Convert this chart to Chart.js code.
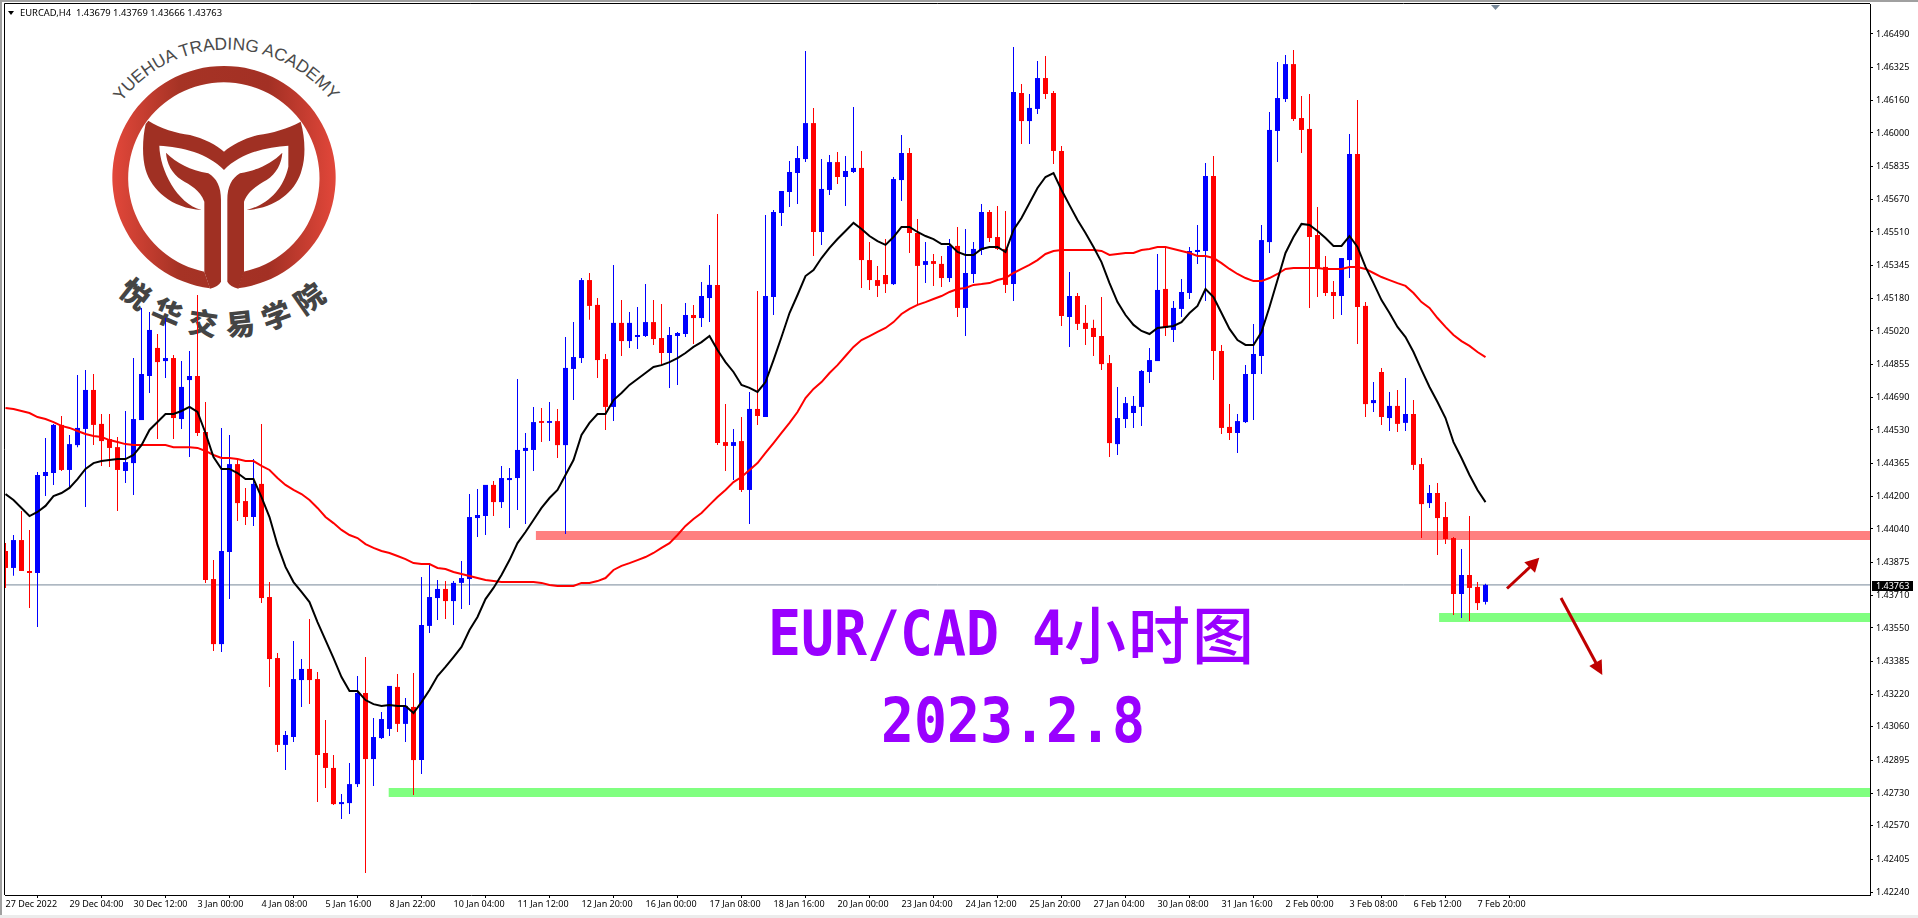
<!DOCTYPE html>
<html lang="en">
<head>
<meta charset="utf-8">
<title>EURCAD,H4</title>
<script src="https://cdn.jsdelivr.net/npm/chart.js@4/dist/chart.umd.js"></script>
<style>
html,body{margin:0;padding:0;background:#fff;width:1918px;height:918px;overflow:hidden}
.strip{position:absolute}
#logo{position:absolute;left:0;top:0;width:480px;height:460px}
#c{position:absolute;left:0;top:0}
#marks{position:absolute;left:0;top:0;pointer-events:none}
#hdr{position:absolute;left:20px;top:6px;font:9.4px/13px 'Noto Sans',sans-serif;color:#000;white-space:pre}
#tri{position:absolute;left:8px;top:10.5px;width:0;height:0;border-left:3.5px solid transparent;border-right:3.5px solid transparent;border-top:4px solid #000}
.big{position:absolute;color:#9900ff;font-family:'DejaVu Sans Mono',monospace;font-weight:bold;font-size:54.8px;line-height:60px;white-space:pre;transform-origin:0 100%;}
.cjk{position:absolute;color:#9900ff;font-family:'Noto Sans CJK SC',sans-serif;font-weight:500;font-size:62px;letter-spacing:2px;line-height:70px;white-space:pre}
</style>
</head>
<body>
<svg id="logo" viewBox="0 0 1440 1380">
<defs><linearGradient id="g" gradientUnits="userSpaceOnUse" x1="337" y1="0" x2="1007" y2="0">
<stop offset="0" stop-color="#e2473a"/><stop offset="0.3" stop-color="#a63325"/><stop offset="0.7" stop-color="#a33024"/><stop offset="1" stop-color="#e2473a"/></linearGradient>
<path id="arcTop" d="M364 306 A396 396 0 0 1 996 306"/>
<path id="arcBot" d="M352 878 A470 470 0 0 0 1000 878"/>
</defs>
<path fill="url(#g)" d="M630 865 A335 335 0 1 1 714 865 L730 815 A287 287 0 1 0 613 815 Z"/>
<g fill="#a03023">
<path id="leaf" d="M498 458 C530 490 570 510 625 520 C650 535 663 560 663 600 L663 845 Q655 860 630 866 L613 815 L613 605 C600 570 570 555 545 540 C515 520 500 490 498 458 Z"/>
<use href="#leaf" transform="translate(1345,0) scale(-1,1)"/>
<path d="M445 362 C480 385 530 400 570 405 C610 415 650 435 672 455 C695 435 735 415 775 405 C815 400 865 385 902 365 C915 410 918 470 905 510 C890 570 830 625 740 630 C800 615 850 570 865 500 L865 437 C800 440 720 460 672 510 C625 460 545 440 478 437 C480 510 530 610 605 630 C515 625 455 570 437 510 C425 470 428 410 437 372 Z"/>
</g>
<text font-family="'Liberation Sans',sans-serif" font-size="52" fill="#4a4a4a"><textPath href="#arcTop" textLength="728" lengthAdjust="spacing">YUEHUA TRADING ACADEMY</textPath></text>
<text font-family="'Noto Sans CJK SC',sans-serif" font-weight="900" font-size="88" fill="#444"><textPath href="#arcBot" textLength="690" lengthAdjust="spacing">悦华交易学院</textPath></text>
</svg>
<canvas id="c" width="1918" height="918"></canvas>
<div class="strip" style="left:0;top:0;width:1918px;height:2px;background:#a0a0a0"></div>
<div class="strip" style="left:0;top:0;width:2px;height:918px;background:#a0a0a0"></div>
<div class="strip" style="left:0;top:915px;width:1918px;height:3px;background:#ececec"></div>
<div id="tri"></div>
<div id="hdr">EURCAD,H4  1.43679 1.43769 1.43666 1.43763</div>
<div class="big" style="left:768px;top:607.4px;transform:scaleY(1.126)">EUR/CAD 4</div>
<div class="cjk" style="left:1064px;top:597px">小时图</div>
<div class="big" style="left:881px;top:694.4px;transform:scaleY(1.126)">2023.2.8</div>
<svg id="marks" width="1918" height="918">
<g fill="#bf0000" stroke="#bf0000">
<line x1="1507" y1="588.5" x2="1530" y2="567" stroke-width="3"/>
<polygon points="1539.3,557.7 1524.3,562.3 1535,572.7" stroke="none"/>
<line x1="1561" y1="598" x2="1596" y2="663" stroke-width="3"/>
<polygon points="1602.3,675 1589.3,666 1601.7,659.3" stroke="none"/>
</g>
</svg>
<script>
const xTickLabels = ["27 Dec 2022","29 Dec 04:00","30 Dec 12:00","3 Jan 00:00","4 Jan 08:00","5 Jan 16:00","8 Jan 22:00","10 Jan 04:00","11 Jan 12:00","12 Jan 20:00","16 Jan 00:00","17 Jan 08:00","18 Jan 16:00","20 Jan 00:00","23 Jan 04:00","24 Jan 12:00","25 Jan 20:00","27 Jan 04:00","30 Jan 08:00","31 Jan 16:00","2 Feb 00:00","3 Feb 08:00","6 Feb 12:00","7 Feb 20:00"];
const yTickValues = [1.46490,1.46325,1.46160,1.46000,1.45835,1.45670,1.45510,1.45345,1.45180,1.45020,1.44855,1.44690,1.44530,1.44365,1.44200,1.44040,1.43875,1.43710,1.43550,1.43385,1.43220,1.43060,1.42895,1.42730,1.42570,1.42405,1.42240];
const highs = [
1.43970,1.44010,1.44129,1.44035,1.44322,1.44490,1.44560,1.44599,1.44505,1.44802,
1.44827,1.44807,1.44609,1.44609,1.44495,1.44624,1.44886,1.45134,1.45114,1.45005,
1.45084,1.44901,1.44871,1.44921,1.45198,1.44668,1.43886,1.44540,1.44505,1.44391,
1.44243,1.44386,1.44560,1.43777,1.43426,1.43040,1.43485,1.43396,1.43594,1.43332,
1.43094,1.42921,1.42728,1.42881,1.43312,1.43406,1.43104,1.43134,1.43263,1.43322,
1.43203,1.43327,1.43802,1.43862,1.43787,1.43782,1.43782,1.43881,1.44213,1.44238,
1.44258,1.44277,1.44352,1.44342,1.44782,1.44515,1.44644,1.44639,1.44668,1.44634,
1.44990,1.45064,1.45282,1.45307,1.45183,1.44906,1.45347,1.45173,1.45114,1.45139,
1.45252,1.45173,1.45153,1.45040,1.45015,1.45158,1.45149,1.45262,1.45347,1.45599,
1.44658,1.44535,1.44594,1.44718,1.45218,1.45594,1.45619,1.45713,1.45861,1.45936,
1.46406,1.46124,1.45871,1.45891,1.45906,1.45886,1.46129,1.45911,1.45460,1.45342,
1.45475,1.45782,1.45990,1.45926,1.45574,1.45460,1.45401,1.45391,1.45475,1.45535,
1.45525,1.45460,1.45648,1.45619,1.45639,1.45614,1.46426,1.46242,1.46193,1.46356,
1.46381,1.46208,1.45936,1.45312,1.45208,1.45149,1.45075,1.45188,1.44901,1.44743,
1.44693,1.44698,1.44827,1.44936,1.45401,1.45436,1.45168,1.45277,1.45436,1.45545,
1.45851,1.45886,1.44951,1.44658,1.44609,1.44851,1.45055,1.45545,1.46104,1.46351,
1.46386,1.46411,1.46183,1.46193,1.45634,1.45391,1.45267,1.45381,1.45995,1.46163,
1.45163,1.44767,1.44837,1.44718,1.44728,1.44787,1.44678,1.44391,1.44258,1.44268,
1.44173,1.44000,1.43941,1.44104,1.43777,1.43769];
const lows = [
1.43748,1.43808,1.43832,1.43649,1.43555,1.44203,1.44258,1.44327,1.44243,1.44445,
1.44149,1.44455,1.44352,1.44347,1.44129,1.44268,1.44208,1.44579,1.44713,1.44485,
1.44787,1.44485,1.44535,1.44396,1.44500,1.43773,1.43436,1.43431,1.43693,1.44079,
1.44059,1.44055,1.43673,1.43258,1.42936,1.42847,1.42985,1.43159,1.43173,1.42688,
1.42758,1.42673,1.42604,1.42629,1.42763,1.42337,1.42768,1.43000,1.43015,1.43035,
1.42985,1.42723,1.42827,1.43525,1.43589,1.43594,1.43565,1.43644,1.43664,1.44000,
1.44010,1.44104,1.44144,1.44045,1.44134,1.44065,1.44327,1.44470,1.44475,1.44391,
1.44015,1.44678,1.44861,1.45075,1.44787,1.44530,1.44574,1.44896,1.44936,1.44931,
1.44990,1.44951,1.44851,1.44738,1.44753,1.44990,1.44955,1.45040,1.45064,1.44455,
1.44327,1.44282,1.44223,1.44065,1.44555,1.44594,1.45099,1.45540,1.45634,1.45648,
1.45856,1.45391,1.45446,1.45693,1.45748,1.45639,1.45802,1.45233,1.45223,1.45188,
1.45208,1.45248,1.45663,1.45406,1.45149,1.45257,1.45243,1.45238,1.45262,1.45089,
1.44995,1.45257,1.45396,1.45460,1.45421,1.45208,1.45168,1.45945,1.45945,1.46094,
1.46168,1.45846,1.45045,1.44941,1.45025,1.44951,1.44896,1.44827,1.44396,1.44406,
1.44540,1.44540,1.44550,1.44762,1.44871,1.44995,1.44965,1.45089,1.45178,1.45352,
1.45168,1.44777,1.44510,1.44480,1.44416,1.44565,1.44579,1.44807,1.45406,1.45856,
1.46153,1.46059,1.45901,1.45134,1.45188,1.45193,1.45079,1.45099,1.45282,1.44955,
1.44594,1.44619,1.44555,1.44525,1.44520,1.44525,1.44332,1.43995,1.44144,1.43911,
1.43965,1.43614,1.43599,1.43584,1.43639,1.43666];
const opens = [
1.43931,1.43847,1.43985,1.43832,1.43822,1.44302,1.44317,1.44555,1.44332,1.44455,
1.44535,1.44728,1.44560,1.44485,1.44445,1.44327,1.44366,1.44579,1.44797,1.44936,
1.44871,1.44886,1.44584,1.44777,1.44797,1.44520,1.43792,1.43470,1.43926,1.44361,
1.44178,1.44099,1.44263,1.43703,1.43401,1.42971,1.43010,1.43292,1.43347,1.43297,
1.42931,1.42857,1.42678,1.42683,1.42777,1.43228,1.42901,1.43005,1.43050,1.43258,
1.43075,1.43159,1.42896,1.43560,1.43698,1.43743,1.43683,1.43773,1.43792,1.44094,
1.44104,1.44258,1.44173,1.44282,1.44292,1.44426,1.44431,1.44574,1.44565,1.44574,
1.44455,1.44832,1.44886,1.45272,1.45149,1.44881,1.44644,1.45060,1.44970,1.44990,
1.44995,1.45064,1.44985,1.44911,1.44995,1.45005,1.45099,1.45084,1.45183,1.45248,
1.44470,1.44451,1.44475,1.44233,1.44634,1.44594,1.45188,1.45604,1.45708,1.45802,
1.45871,1.46049,1.45510,1.45718,1.45856,1.45782,1.45807,1.45827,1.45371,1.45272,
1.45297,1.45252,1.45767,1.45901,1.45505,1.45347,1.45366,1.45352,1.45282,1.45441,
1.45134,1.45302,1.45421,1.45609,1.45485,1.45426,1.45252,1.46198,1.46059,1.46119,
1.46272,1.46198,1.45911,1.45089,1.45193,1.45060,1.45035,1.44995,1.44861,1.44460,
1.44584,1.44614,1.44644,1.44817,1.44871,1.45228,1.45025,1.45129,1.45208,1.45411,
1.45416,1.45787,1.44921,1.44545,1.44515,1.44569,1.44807,1.44896,1.45460,1.46010,
1.46168,1.46341,1.46074,1.46020,1.45495,1.45337,1.45213,1.45193,1.45371,1.45896,
1.45144,1.44663,1.44817,1.44589,1.44649,1.44565,1.44609,1.44361,1.44168,1.44218,
1.44099,1.43995,1.43718,1.43812,1.43753,1.43679];
const closes = [
1.43847,1.43985,1.43832,1.43822,1.44307,1.44322,1.44555,1.44332,1.44460,1.44540,
1.44728,1.44555,1.44475,1.44441,1.44332,1.44371,1.44584,1.44807,1.45025,1.44866,
1.44886,1.44589,1.44743,1.44797,1.44515,1.43787,1.43470,1.43931,1.44361,1.44168,
1.44099,1.44263,1.43698,1.43396,1.42971,1.43020,1.43297,1.43347,1.43292,1.42921,
1.42857,1.42678,1.42688,1.42777,1.43228,1.42901,1.43010,1.43099,1.43263,1.43075,
1.43164,1.42896,1.43565,1.43703,1.43743,1.43683,1.43773,1.43797,1.44099,1.44109,
1.44258,1.44173,1.44292,1.44292,1.44431,1.44441,1.44569,1.44565,1.44574,1.44455,
1.44837,1.44891,1.45272,1.45144,1.44876,1.44644,1.45060,1.44970,1.45060,1.45000,
1.45064,1.44980,1.44911,1.45000,1.45010,1.45099,1.45084,1.45193,1.45248,1.44465,
1.44451,1.44470,1.44233,1.44634,1.44599,1.45193,1.45609,1.45713,1.45807,1.45876,
1.46049,1.45510,1.45723,1.45856,1.45782,1.45812,1.45827,1.45371,1.45272,1.45243,
1.45252,1.45772,1.45901,1.45505,1.45342,1.45366,1.45352,1.45282,1.45441,1.45134,
1.45307,1.45426,1.45609,1.45480,1.45426,1.45248,1.46203,1.46059,1.46124,1.46272,
1.46193,1.45911,1.45094,1.45193,1.45055,1.45030,1.44990,1.44856,1.44465,1.44589,
1.44663,1.44649,1.44822,1.44876,1.45223,1.45035,1.45134,1.45213,1.45416,1.45421,
1.45787,1.44921,1.44540,1.44515,1.44574,1.44807,1.44906,1.45470,1.46015,1.46173,
1.46341,1.46069,1.46015,1.45485,1.45332,1.45208,1.45193,1.45381,1.45896,1.45139,
1.44658,1.44678,1.44594,1.44649,1.44560,1.44609,1.44357,1.44163,1.44218,1.44094,
1.43990,1.43718,1.43812,1.43748,1.43673,1.43763];
const maFast = [
1.44213,1.44183,1.44144,1.44104,1.44124,1.44154,1.44203,1.44218,1.44243,1.44287,
1.44337,1.44366,1.44376,1.44381,1.44386,1.44386,1.44406,1.44455,1.44530,1.44569,
1.44609,1.44609,1.44624,1.44644,1.44619,1.44515,1.44396,1.44337,1.44337,1.44317,
1.44287,1.44287,1.44198,1.44099,1.43961,1.43852,1.43777,1.43728,1.43678,1.43579,
1.43490,1.43401,1.43307,1.43238,1.43238,1.43193,1.43173,1.43164,1.43169,1.43164,
1.43164,1.43129,1.43183,1.43243,1.43312,1.43357,1.43406,1.43456,1.43540,1.43604,
1.43693,1.43748,1.43812,1.43886,1.43970,1.44025,1.44084,1.44144,1.44193,1.44233,
1.44307,1.44381,1.44505,1.44565,1.44609,1.44609,1.44678,1.44713,1.44753,1.44782,
1.44812,1.44842,1.44851,1.44866,1.44886,1.44911,1.44941,1.44965,1.44995,1.44926,
1.44866,1.44817,1.44753,1.44738,1.44718,1.44767,1.44876,1.44990,1.45109,1.45198,
1.45292,1.45322,1.45381,1.45431,1.45475,1.45515,1.45555,1.45525,1.45490,1.45465,
1.45446,1.45485,1.45535,1.45535,1.45510,1.45490,1.45475,1.45450,1.45450,1.45411,
1.45396,1.45396,1.45426,1.45436,1.45436,1.45411,1.45520,1.45579,1.45653,1.45728,
1.45782,1.45802,1.45718,1.45643,1.45569,1.45505,1.45436,1.45361,1.45257,1.45163,
1.45099,1.45050,1.45020,1.45005,1.45035,1.45040,1.45045,1.45064,1.45109,1.45144,
1.45228,1.45188,1.45109,1.45030,1.44975,1.44951,1.44951,1.45015,1.45139,1.45272,
1.45406,1.45485,1.45550,1.45545,1.45515,1.45480,1.45441,1.45441,1.45490,1.45436,
1.45337,1.45257,1.45173,1.45109,1.45040,1.44990,1.44916,1.44827,1.44743,1.44668,
1.44589,1.44470,1.44391,1.44307,1.44233,1.44173];
const maSlow = [
1.44639,1.44634,1.44624,1.44614,1.44594,1.44584,1.44569,1.44550,1.44540,1.44525,
1.44510,1.44500,1.44495,1.44480,1.44470,1.44460,1.44455,1.44455,1.44455,1.44455,
1.44455,1.44445,1.44445,1.44445,1.44441,1.44426,1.44406,1.44391,1.44391,1.44386,
1.44376,1.44376,1.44352,1.44332,1.44292,1.44258,1.44233,1.44213,1.44183,1.44144,
1.44099,1.44069,1.44035,1.44010,1.43995,1.43965,1.43946,1.43931,1.43921,1.43906,
1.43891,1.43871,1.43866,1.43866,1.43847,1.43842,1.43827,1.43817,1.43807,1.43797,
1.43787,1.43782,1.43777,1.43777,1.43777,1.43777,1.43777,1.43773,1.43763,1.43758,
1.43758,1.43758,1.43773,1.43773,1.43782,1.43797,1.43837,1.43857,1.43871,1.43886,
1.43901,1.43921,1.43946,1.43970,1.44010,1.44055,1.44089,1.44119,1.44159,1.44198,
1.44233,1.44272,1.44297,1.44332,1.44366,1.44416,1.44465,1.44515,1.44565,1.44619,
1.44688,1.44733,1.44767,1.44812,1.44851,1.44896,1.44941,1.44975,1.44995,1.45015,
1.45035,1.45064,1.45104,1.45129,1.45149,1.45163,1.45178,1.45193,1.45213,1.45228,
1.45233,1.45248,1.45252,1.45257,1.45272,1.45282,1.45307,1.45327,1.45347,1.45371,
1.45401,1.45416,1.45421,1.45421,1.45421,1.45421,1.45421,1.45416,1.45396,1.45401,
1.45406,1.45406,1.45421,1.45426,1.45436,1.45436,1.45426,1.45416,1.45406,1.45391,
1.45391,1.45381,1.45356,1.45327,1.45302,1.45282,1.45267,1.45267,1.45282,1.45302,
1.45327,1.45332,1.45332,1.45332,1.45332,1.45327,1.45327,1.45327,1.45337,1.45337,
1.45327,1.45307,1.45287,1.45272,1.45257,1.45243,1.45208,1.45163,1.45134,1.45084,
1.45040,1.45000,1.44970,1.44946,1.44916,1.44891];
const levelPrices = [1.44008, 1.43602, 1.42735];
const levelStarts = [66.3, 179.2, 47.9];
const levelColors = ['#ff8080', '#80ff80', '#80ff80'];
const lastPrice = 1.43763;

const UP = '#0000ff', DOWN = '#ff0000';
const candleColors = closes.map((c, i) => c > opens[i] ? UP : DOWN);
const xMin = -0.0625, xMax = 233.0625;
const FONT = {family: "'Noto Sans',sans-serif", size: 9};

const levelSets = levelPrices.map((p, i) => ({
  type: 'line', data: [{x: levelStarts[i], y: p}, {x: xMax, y: p}],
  borderColor: levelColors[i], borderWidth: 9, borderCapStyle: 'butt', pointRadius: 0, order: 6
}));

const frame = {
  id: 'frame',
  beforeDatasetsDraw(chart) {
    const {ctx, chartArea: a} = chart;
    ctx.save(); ctx.strokeStyle = '#000'; ctx.lineWidth = 1;
    ctx.beginPath();
    ctx.moveTo(a.left - 0.5, a.bottom); ctx.lineTo(a.left - 0.5, a.top - 0.5); ctx.lineTo(a.right, a.top - 0.5);
    ctx.stroke(); ctx.restore();
  },
  afterDraw(chart) {
    const {ctx, scales} = chart;
    const y = scales.y.getPixelForValue(lastPrice);
    ctx.save();
    ctx.fillStyle = '#000'; ctx.fillRect(1872, Math.round(y) - 4, 41, 10);
    ctx.fillStyle = '#fff'; ctx.font = "9px 'Noto Sans',sans-serif";
    ctx.textBaseline = 'middle'; ctx.textAlign = 'left';
    ctx.fillText(lastPrice.toFixed(5), 1876, Math.round(y) + 1);
    // chart-shift marker on the top edge
    ctx.fillStyle = '#778899'; ctx.beginPath();
    ctx.moveTo(1491, 5); ctx.lineTo(1500, 5); ctx.lineTo(1495.5, 10); ctx.closePath(); ctx.fill();
    ctx.restore();
  }
};

new Chart(document.getElementById('c'), {
  type: 'bar',
  plugins: [frame],
  data: {
    datasets: [
      ...levelSets,
      {type: 'line', data: [{x: xMin, y: lastPrice}, {x: xMax, y: lastPrice}], borderColor: '#778899', borderWidth: 1, pointRadius: 0, order: 5},
      {type: 'bar', data: highs.map((h, i) => ({x: i, y: [lows[i], h]})), backgroundColor: candleColors,
       grouped: false, barPercentage: 1, categoryPercentage: 1, maxBarThickness: 1, inflateAmount: 0, order: 4},
      {type: 'bar', data: opens.map((o, i) => ({x: i, y: [o, closes[i]]})), backgroundColor: candleColors,
       grouped: false, barPercentage: 1, categoryPercentage: 1, maxBarThickness: 5, inflateAmount: 0, order: 3},
      {type: 'line', data: maSlow.map((v, i) => ({x: i, y: v})), borderColor: '#ff0000', borderWidth: 2, pointRadius: 0, tension: 0, order: 2},
      {type: 'line', data: maFast.map((v, i) => ({x: i, y: v})), borderColor: '#000000', borderWidth: 2, pointRadius: 0, tension: 0, order: 1}
    ]
  },
  options: {
    responsive: false, animation: false, devicePixelRatio: 1,
    layout: {padding: {left: 5, top: 4, right: 0, bottom: 0}},
    plugins: {legend: {display: false}, tooltip: {enabled: false}},
    events: [],
    scales: {
      x: {
        type: 'linear', position: 'bottom', min: xMin, max: xMax, offset: false,
        afterBuildTicks(s) { s.ticks = xTickLabels.map((_, i) => ({value: i * 8})); },
        afterFit(s) { s.height = 23; s.paddingLeft = 0; s.paddingRight = 0; },
        grid: {drawOnChartArea: false, tickLength: 3, tickColor: '#000'},
        border: {color: '#000', width: 1},
        ticks: {autoSkip: false, maxRotation: 0, minRotation: 0, align: 'start', padding: 1, color: '#000', font: FONT,
          callback: v => xTickLabels[Math.round(v / 8)]}
      },
      y: {
        type: 'linear', position: 'right', min: 1.4222805, max: 1.466385,
        afterBuildTicks(s) { s.ticks = yTickValues.map(v => ({value: v})); },
        afterFit(s) { s.width = 48; s.paddingTop = 0; s.paddingBottom = 0; },
        grid: {drawOnChartArea: false, tickLength: 3, tickColor: '#000'},
        border: {color: '#000', width: 1},
        ticks: {autoSkip: false, padding: 3, color: '#000', font: FONT, callback: v => v.toFixed(5)}
      }
    }
  }
});
</script>
</body>
</html>
